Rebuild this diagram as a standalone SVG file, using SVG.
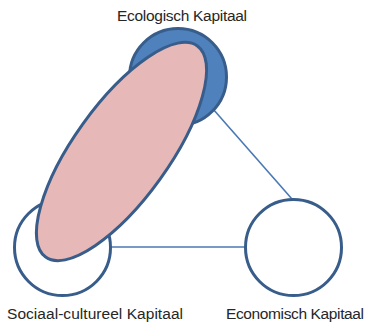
<svg xmlns="http://www.w3.org/2000/svg" width="366" height="323" viewBox="0 0 366 323">
<style>
.lbl{font-family:"Liberation Sans",Arial,sans-serif;font-size:15.5px;fill:#262626}
.conn{stroke:#4a78b5;stroke-width:1.6;fill:none}
.node{stroke:#385d8a;stroke-width:3}
</style>
<rect width="366" height="323" fill="#ffffff"/>
<g id="connectors">
<line class="conn" x1="213" y1="109" x2="292" y2="199"/>
<line class="conn" x1="110" y1="247" x2="246" y2="247"/>
</g>
<g id="economisch">
<circle class="node" cx="293.5" cy="247.5" r="48" fill="#ffffff"/>
<text class="lbl" x="226" y="319" textLength="138">Economisch Kapitaal</text>
</g>
<g id="sociaal">
<circle class="node" cx="62.5" cy="247.5" r="48" fill="#ffffff"/>
<text class="lbl" x="7" y="319" textLength="176">Sociaal-cultureel Kapitaal</text>
</g>
<g id="ecologisch">
<circle class="node" cx="178" cy="77" r="48.5" fill="#4f81bd"/>
<text class="lbl" x="117" y="21" textLength="130">Ecologisch Kapitaal</text>
</g>
<g id="overlap">
<ellipse class="node" cx="121.5" cy="151.5" rx="130" ry="47.5" fill="#e6b9b8" transform="rotate(-54.3 121.5 151.5)"/>
</g>
</svg>
